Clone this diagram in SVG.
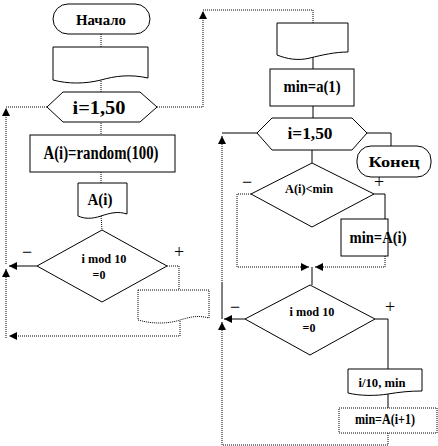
<svg xmlns="http://www.w3.org/2000/svg" width="438" height="446" viewBox="0 0 438 446" font-family="'Liberation Serif', 'DejaVu Serif', serif">
<style>
.sh{fill:#fff;stroke:#000;stroke-width:1}
.shd{fill:#fff;stroke:#000;stroke-width:1;stroke-dasharray:1 1}
.s{fill:none;stroke:#000;stroke-width:1}
.d{fill:none;stroke:#000;stroke-width:1;stroke-dasharray:1 1}
.g{fill:none;stroke:#808080;stroke-width:2}
text{font-family:'Liberation Serif','DejaVu Serif',serif;font-weight:bold;fill:#000;text-anchor:middle}
.sg{font-size:18px;font-weight:normal}
</style>
<defs>
<marker id="ar" markerUnits="userSpaceOnUse" markerWidth="8" markerHeight="8" refX="8" refY="4" orient="auto">
<path d="M0,0 L8,4 L0,8 Z" fill="#000"/>
</marker>
</defs>
<g id="connectors">
<line class="d" x1="101" y1="34" x2="101" y2="47"/>
<line class="d" x1="101" y1="81" x2="101" y2="92"/>
<line class="d" x1="101" y1="123" x2="101" y2="135"/>
<line class="d" x1="101" y1="172" x2="101" y2="183"/>
<line class="d" x1="101" y1="216" x2="102" y2="230"/>
<polyline class="g" points="37,266 9,266" marker-end="url(#ar)"/>
<polyline class="d" points="167,266 179,266 179,290"/>
<polyline class="d" points="180,321 180,336 9,336" marker-end="url(#ar)"/>
<polyline class="d" points="6,338 6,269" marker-end="url(#ar)"/>
<polyline class="d" points="6,264 6,108" marker-end="url(#ar)"/>
<line class="d" x1="6" y1="107" x2="47" y2="107"/>
<polyline class="d" points="157,107 203,107 203,11" marker-end="url(#ar)"/>
<polyline class="d" points="203,10 313,10 313,23"/>
<line class="s" x1="313" y1="57" x2="313" y2="69"/>
<line class="s" x1="313" y1="106" x2="313" y2="118"/>
<line class="s" x1="257" y1="133" x2="222" y2="133"/>
<polyline class="d" points="222,283 222,136" marker-end="url(#ar)"/>
<line class="s" x1="222" y1="283" x2="222" y2="319"/>
<polyline class="s" points="367,133 391,133 391,146"/>
<line class="s" x1="312" y1="150" x2="312" y2="163"/>
<polyline class="d" points="251,194 237,194 237,267 309,267" marker-end="url(#ar)"/>
<polyline class="s" points="374,194 385,194 385,219"/>
<polyline class="d" points="385,256 385,267 315,267" marker-end="url(#ar)"/>
<line class="s" x1="312" y1="267" x2="312" y2="285"/>
<polyline class="g" points="245,319 224,319" marker-end="url(#ar)"/>
<polyline class="s" points="375,319 388,319 388,369"/>
<line class="s" x1="388" y1="393" x2="388" y2="408"/>
<polyline class="d" points="388,433 388,445 222,445 222,322" marker-end="url(#ar)"/>
</g>
<g id="start">
<rect class="sh" x="53" y="4" width="97" height="30" rx="15"/>
<text x="101" y="25" font-size="15" textLength="50" lengthAdjust="spacingAndGlyphs">Начало</text>
</g>
<g id="input1">
<path class="sh" d="M53,47 H148 V78 C130,74 115,76 101,80 C85,84 68,84 53,80 Z"/>
</g>
<g id="loop1">
<polygon class="sh" points="47,107 63,92 140,92 157,107 140,122 63,122"/>
<text x="99" y="114" font-size="19" textLength="53" lengthAdjust="spacingAndGlyphs">i=1,50</text>
</g>
<g id="assign1">
<rect class="sh" x="30" y="135" width="145" height="37"/>
<text x="101" y="159" font-size="18" textLength="115" lengthAdjust="spacingAndGlyphs">A(i)=random(100)</text>
</g>
<g id="output1">
<path class="sh" d="M78,183 H127 V214 C118,211 110,213 101,216 C92,219 85,219 78,216 Z"/>
<text x="100" y="205" font-size="17" textLength="25" lengthAdjust="spacingAndGlyphs">A(i)</text>
</g>
<g id="cond1">
<polygon class="sh" points="102,230 167,266 102,302 37,266"/>
<text x="104" y="263" font-size="12" textLength="45" lengthAdjust="spacingAndGlyphs">i mod 10</text>
<text x="99" y="279" font-size="12">=0</text>
<text x="27" y="258" class="sg">−</text>
<text x="179" y="258" class="sg">+</text>
</g>
<g id="output2">
<path class="shd" d="M138,290 H209 V318 C198,315 190,317 180,320 C168,324 152,324 138,320 Z"/>
</g>
<g id="input2">
<path class="sh" d="M277,23 H348 V52 C335,52 322,55 310,58 C298,61 287,59 277,55 Z"/>
</g>
<g id="assign2">
<rect class="sh" x="270" y="69" width="84" height="37"/>
<text x="312" y="92" font-size="16" textLength="57" lengthAdjust="spacingAndGlyphs">min=a(1)</text>
</g>
<g id="loop2">
<polygon class="sh" points="257,133 272,118 352,118 367,133 352,150 272,150"/>
<text x="310" y="139" font-size="16" textLength="45" lengthAdjust="spacingAndGlyphs">i=1,50</text>
</g>
<g id="end">
<rect class="sh" x="357" y="146" width="74" height="31" rx="14"/>
<text x="394" y="167" font-size="15" textLength="51" lengthAdjust="spacingAndGlyphs">Конец</text>
</g>
<g id="cond2">
<polygon class="sh" points="312,163 374,194 312,227 251,194"/>
<text x="309" y="193" font-size="13" textLength="48" lengthAdjust="spacingAndGlyphs">A(i)&lt;min</text>
<text x="247" y="188" class="sg">−</text>
<text x="379" y="188" class="sg">+</text>
</g>
<g id="assign3">
<rect class="sh" x="341" y="219" width="47" height="37"/>
<text x="378" y="243" font-size="16" textLength="57" lengthAdjust="spacingAndGlyphs">min=A(i)</text>
</g>
<g id="cond3">
<polygon class="sh" points="310,285 375,319 310,355 245,319"/>
<text x="312" y="316" font-size="12" textLength="45" lengthAdjust="spacingAndGlyphs">i mod 10</text>
<text x="309" y="332" font-size="12">=0</text>
<text x="235" y="313" class="sg">−</text>
<text x="390" y="313" class="sg">+</text>
</g>
<g id="output3">
<path class="sh" d="M348,369 H422 V391 C410,391 400,392 388,394 C376,396 360,396 348,393 Z"/>
<text x="382" y="387" font-size="13" textLength="47" lengthAdjust="spacingAndGlyphs">i/10, min</text>
</g>
<g id="assign4">
<rect class="shd" x="339" y="408" width="98" height="25"/>
<text x="385" y="424" font-size="14" textLength="60" lengthAdjust="spacingAndGlyphs">min=A(i+1)</text>
</g>
</svg>
